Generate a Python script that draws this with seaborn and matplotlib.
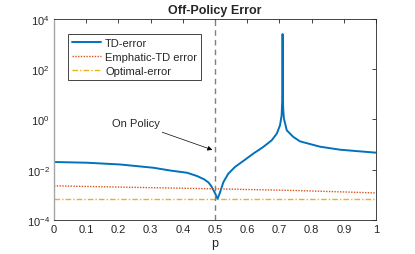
import numpy as np
import pandas as pd
import seaborn as sns
import matplotlib
matplotlib.use("Agg")
import matplotlib.pyplot as plt
from matplotlib.ticker import FixedLocator, NullLocator, LogFormatterMathtext

# values
p_td = [0.0, 0.103, 0.207, 0.31, 0.362, 0.414, 0.445, 0.466, 0.479, 0.487,
        0.495, 0.502, 0.508, 0.516, 0.526, 0.541, 0.562, 0.593, 0.619, 0.65,
        0.676, 0.692, 0.702, 0.707, 0.709, 0.7095, 0.710, 0.7105, 0.711,
        0.712, 0.714, 0.723, 0.743, 0.764, 0.826, 0.888, 0.95, 1.0]
td_err = [2.04e-2, 1.91e-2, 1.62e-2, 1.20e-2, 9.3e-3, 7.6e-3, 5.6e-3, 4.2e-3,
          3.2e-3, 2.4e-3, 1.58e-3, 1.05e-3, 6.9e-4, 1.29e-3, 3.2e-3, 6.9e-3,
          1.29e-2, 2.5e-2, 4.4e-2, 8.1e-2, 1.48e-1, 2.75e-1, 5.9e-1, 1.48,
          6.3, 31.6, 2.5e3, 31.6, 6.3, 2.5, 1.1, 3.7e-1, 2.04e-1, 1.35e-1,
          8.3e-2, 6.3e-2, 5.4e-2, 4.8e-2]

p_emph = [0.0, 0.25, 0.5, 0.75, 1.0]
emph_err = [2.3e-3, 2.0e-3, 1.75e-3, 1.5e-3, 1.2e-3]

p_opt = [0.0, 1.0]
opt_err = [6.6e-4, 6.6e-4]

on_policy_p = 0.5
arrow_tip = (0.5, 5.7e-2)
text_pos = (0.255, 0.72)

sns.set_style("white")
plt.rcParams["font.family"] = ["Liberation Sans", "DejaVu Sans"]
plt.rcParams["mathtext.fontset"] = "custom"
plt.rcParams["mathtext.rm"] = "Liberation Sans"
plt.rcParams["mathtext.it"] = "Liberation Sans:italic"

fig = plt.figure(figsize=(4.15, 2.55), dpi=100)
ax = fig.add_axes([0.130, 0.133, 0.776, 0.789])

blue, red, yellow = "#0072BD", "#D95319", "#EDB120"

sns.lineplot(x=p_td, y=td_err, ax=ax, color=blue, lw=1.4, label="TD-error")
sns.lineplot(x=p_emph, y=emph_err, ax=ax, color=red, lw=1.0,
             linestyle=(0, (1, 1)), label="Emphatic-TD error")
sns.lineplot(x=p_opt, y=opt_err, ax=ax, color=yellow, lw=1.0,
             linestyle=(0, (4, 1.5, 1, 1.5)), label="Optimal-error")

ax.axvline(on_policy_p, color="#7f7f7f", lw=1.0, linestyle=(0, (4, 3)))

ax.set_yscale("log")
ax.set_xlim(0, 1)
ax.set_ylim(1e-4, 1e4)
ax.set_xticks(np.round(np.arange(0, 1.01, 0.1), 1))
ax.set_xticklabels(["0", "0.1", "0.2", "0.3", "0.4", "0.5", "0.6", "0.7",
                    "0.8", "0.9", "1"])
ax.yaxis.set_major_locator(FixedLocator([1e-4, 1e-2, 1e0, 1e2, 1e4]))
ax.yaxis.set_minor_locator(NullLocator())
ax.yaxis.set_major_formatter(LogFormatterMathtext())
ax.tick_params(direction="in", length=3, width=0.6, labelsize=8,
               colors="#262626", top=True, right=True, pad=3)
for side in ["top", "right", "bottom"]:
    ax.spines[side].set_color("#262626")
    ax.spines[side].set_linewidth(0.6)
ax.spines["left"].set_color("#a6a6a6")
ax.spines["left"].set_linewidth(1.0)

ax.set_title("Off-Policy Error", fontsize=9, fontweight="bold", pad=4)
ax.set_xlabel("p", fontsize=9, labelpad=2)
ax.set_ylabel("")

ax.annotate("On Policy", xy=arrow_tip, xytext=text_pos, fontsize=8,
            ha="center", va="center",
            arrowprops=dict(arrowstyle="-|>", color="k", lw=0.5,
                            mutation_scale=7))

leg = ax.legend(loc="upper left", bbox_to_anchor=(0.043, 0.925),
                borderaxespad=0, fontsize=8, handlelength=2.6,
                fancybox=False, framealpha=1, edgecolor="#262626",
                borderpad=0.35, labelspacing=0.35, handletextpad=0.4)
leg.get_frame().set_linewidth(0.6)

fig.savefig("out.png", dpi=100)
